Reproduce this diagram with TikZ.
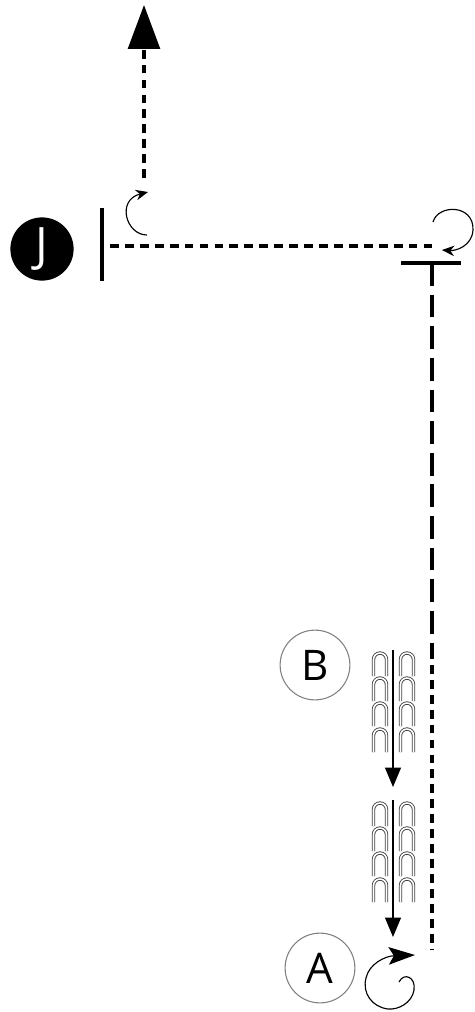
\documentclass[tikz,border=0pt]{standalone}
\usepackage{fontspec}
\setmainfont{Open Sans}
\usetikzlibrary{arrows.meta}
\tikzset{
  dashline/.style={line width=2.1pt, dash pattern=on 5pt off 3.5pt},
  longdashline/.style={line width=2.1pt, dash pattern=on 13pt off 5pt},
  barline/.style={line width=2.1pt},
  thinarrow/.style={line width=0.65pt, -{Stealth[length=7pt,width=6pt]}},
  downarrow/.style={line width=0.9pt, -{Triangle[length=11pt,width=9pt]}},
  markcircle/.style={circle, draw=gray, line width=0.6pt, minimum size=39.7pt, inner sep=0pt, font=\fontsize{24}{24}\selectfont},
  archline/.style={draw=black!75, double=white, double distance=0.9pt, line width=0.5pt},
}
\begin{document}
\begin{tikzpicture}[x=0.02cm,y=-0.02cm]
\useasboundingbox (0,0) rectangle (474,1012);

% J and its bar
\node[circle, fill=black, minimum size=36pt, inner sep=0pt, text=white, font=\fontsize{27}{27}\selectfont] (J) at (42,249) {J};
\draw[barline] (102,208) -- (102,281);
\coordinate (jl) at (110,246);
\coordinate (jr) at (433,246);
\draw[dashline] (jl) -- (jr);

% way up
\coordinate (up0) at (144,178);
\coordinate (up1) at (144,5);
\draw[dashline, -{Triangle[length=25pt,width=18pt]}] (up0) -- (up1);
\draw[thinarrow] (147,235) .. controls (126,235) and (116,200) .. (148,192);

% turn at the right
\draw[thinarrow] (433,222) .. controls (438,204) and (474,204) .. (473,230) .. controls (472,246) and (456,251) .. (442,250);
\coordinate (tee) at (432,263);
\draw[barline] (401,263) -- (461,263);
\coordinate (mid) at (432,650);
\coordinate (low) at (432,950);
\draw[longdashline] (tee) -- (mid);
\draw[dashline] (mid) -- (low);

% B and the two rows of arches
\node[markcircle] (B) at (315,665) {B};
\foreach \y in {653,678,703,729,803,828,853,879}
  \foreach \x in {380,407}
    \draw[archline] (\x-6.5,\y+23) -- (\x-6.5,\y+6.5) arc (180:360:6.5) -- (\x+6.5,\y+23);
\coordinate (b1) at (393,650);
\coordinate (b1e) at (393,787);
\coordinate (b2) at (393,800);
\coordinate (b2e) at (393,937);
\draw[downarrow] (b1) -- (b1e);
\draw[downarrow] (b2) -- (b2e);

% A and the spiral
\node[markcircle] (A) at (320,968) {A};
\draw[line width=0.65pt, -{Stealth[length=15pt,width=10pt,inset=3pt]}] (399,982) .. controls (404,972) and (416,977) .. (414,990)
  .. controls (412,1003) and (398,1010) .. (388,1009)
  .. controls (372,1007) and (362,993) .. (366,978)
  .. controls (369,964) and (385,956) .. (415,955);
\end{tikzpicture}
\end{document}
